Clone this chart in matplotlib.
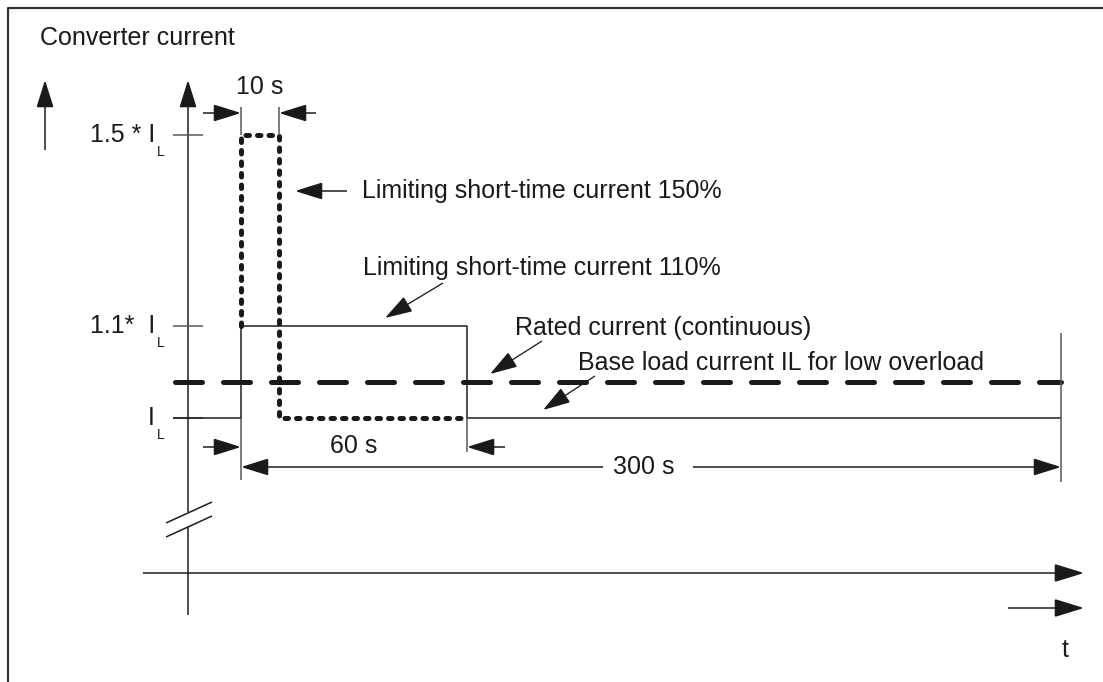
import matplotlib
matplotlib.use('Agg')
import matplotlib.pyplot as plt
from matplotlib.patches import FancyArrowPatch

# ---------------- diagram values (schematic diagram units; y grows downward) ----------------
level_labels = ['1.5 * I', '1.1*  I', 'I']
level_pos = [135, 326, 418]          # positions of 1.5*I_L, 1.1*I_L, I_L
rated_pos = 382                      # rated current (continuous)
t_pos = [241, 279, 467, 1061]        # start, +10 s, +60 s, +300 s
dim_labels = ['10 s', '60 s', '300 s']
curve_labels = ['Limiting short-time current 150%',
                'Limiting short-time current 110%',
                'Rated current (continuous)',
                'Base load current IL for low overload']
axis_x = 188                          # position of the current axis
time_axis_pos = 573                   # position of the time axis
axis_left, axis_right = 143, 1084
axis_top, axis_bottom = 80, 615
break_pos = [512, 527]

C = '#1a1a1a'
CT = '#555555'
FONT = 'Liberation Sans'
FS = 18
PX = 0.72  # points per pixel at dpi 100

fig = plt.figure(figsize=(11.03, 6.82), dpi=100)
ax = fig.add_axes([0, 0, 1, 1])
ax.set_xlim(0, 1103)
ax.set_ylim(682, 0)
ax.axis('off')


def arrow(x0, y0, x1, y1, lw=1.5, hl=24, hw=15, color=C):
    ms = 10.0
    k = ms / PX
    p = FancyArrowPatch((x0, y0), (x1, y1),
                        arrowstyle=f'-|>,head_length={hl / k:.3f},head_width={hw / 2 / k:.3f}',
                        mutation_scale=ms, shrinkA=0, shrinkB=0,
                        lw=lw * PX, color=color, joinstyle='miter', capstyle='butt')
    ax.add_patch(p)


def line(xs, ys, lw=1.5, color=C, **kw):
    ax.plot(xs, ys, color=color, lw=lw * PX, solid_capstyle='butt', **kw)


def text(x, y, s, ha='left', va='center', size=FS, **kw):
    ax.text(x, y, s, ha=ha, va=va, fontsize=size, family=FONT, color='#1a1a1a', **kw)


# frame
line([8, 8, 1103], [682, 8, 8], lw=2.2, color='#333333')

# title + left arrow
text(40, 38, 'Converter current')
arrow(45, 150, 45, axis_top)

# current axis (with break)
arrow(axis_x, break_pos[0], axis_x, axis_top)
line([axis_x, axis_x], [break_pos[1], axis_bottom])
line([166, 212], [break_pos[0] + 11, break_pos[0] - 10])
line([166, 212], [break_pos[1] + 10, break_pos[1] - 11])

# time axis
arrow(axis_left, time_axis_pos, axis_right, time_axis_pos, hl=26, hw=16)
arrow(1008, 608, axis_right, 608, hl=26, hw=16)
text(1062, 650, 't')

# level ticks and labels
for lab, y in zip(level_labels, level_pos):
    line([173, 203], [y, y], color=CT)
    text(155, y, lab, ha='right')
    text(157, y + 17, 'L', size=10)

# solid 110 % curve (from I_L up to 1.1 I_L for 60 s, back to I_L until 300 s)
t0, t10, t60, t300 = t_pos
IL, I110, I150 = level_pos[2], level_pos[1], level_pos[0]
line([173, t0, t0, t60, t60, t300], [IL, IL, I110, I110, IL, IL])

# dotted 150 % curve
ax.plot([t0, t0, t10, t10, t60 - 3], [I110, I150, I150, IL, IL], color=C, lw=5 * PX,
        linestyle=(0, (0.7, 1.6)), dash_capstyle='round', dash_joinstyle='round')

# dashed rated current
ax.plot([174.5, t300], [rated_pos, rated_pos], color=C, lw=5 * PX,
        linestyle=(0, (5.4, 4.2)), dash_capstyle='round')

# ---- 10 s dimension
line([t0, t0], [107, I150], color=CT)
line([t10, t10], [107, I150], color=CT)
arrow(203, 113, t0, 113)
arrow(316, 113, t10, 113)
text((t0 + t10) / 2, 87, dim_labels[0], ha='center')

# ---- 60 s dimension
line([t0, t0], [IL, 480], color=CT)
line([t60, t60], [IL, 452], color=CT)
arrow(203, 447, t0, 447)
arrow(505, 447, t60, 447)
text(354, 446, dim_labels[1], ha='center')

# ---- 300 s dimension
line([t300, t300], [333, 482], color=CT)
arrow(603, 467, t0, 467)
arrow(693, 467, t300, 467)
text(644, 467, dim_labels[2], ha='center')

# ---- curve annotations
arrow(347, 191, 295, 191)
text(362, 191, curve_labels[0])

arrow(443, 283, 385, 318, lw=1.3)
text(363, 268, curve_labels[1])

arrow(542, 341, 490, 374, lw=1.3)
text(515, 328, curve_labels[2])

arrow(595, 376, 543, 410, lw=1.3)
text(578, 363, curve_labels[3])

fig.savefig('out.png', dpi=100, facecolor='white')
